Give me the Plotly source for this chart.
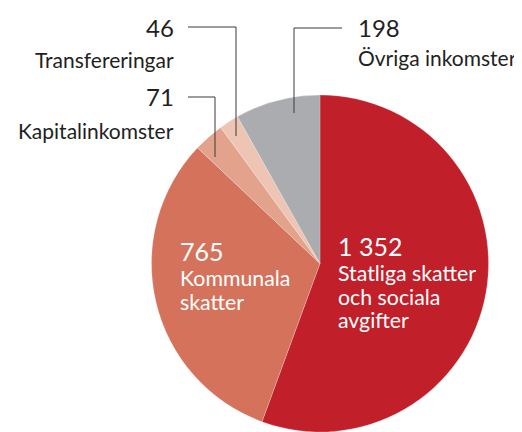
import plotly.graph_objects as go

categories = ["Statliga skatter och sociala avgifter", "Kommunala skatter",
              "Kapitalinkomster", "Transfereringar", "Övriga inkomster"]
values = [1352, 765, 71, 46, 198]
value_labels = ["1 352", "765", "71", "46", "198"]
label_lines = [["Statliga skatter", "och sociala", "avgifter"], ["Kommunala", "skatter"],
               ["Kapitalinkomster"], ["Transfereringar"], ["Övriga inkomster"]]
colors = ["#C1202A", "#D5725B", "#E3A28C", "#EEC4B4", "#ABACAF"]

OFF = 8  # page body margin
W, H = 522 - OFF, 432 - OFF
FONT = "Lato"
DARK = "#231F20"

def px(x):
    return (x - OFF) / W

def py(y):
    return 1 - (y - OFF) / H

fig = go.Figure(go.Pie(
    labels=categories, values=values, sort=False, direction="clockwise", rotation=0,
    marker=dict(colors=colors, line=dict(color="rgba(255,255,255,0.35)", width=0.6)),
    textinfo="none", hoverinfo="label+value", showlegend=False,
    domain=dict(x=[px(320 - 169), px(320 + 169)], y=[0, py(95)]),
))

ann = []

def add(x, y, text, size, color, xanchor="left"):
    ann.append(dict(x=px(x), y=py(y), text=text, xanchor=xanchor, yanchor="middle",
                    xref="paper", yref="paper", showarrow=False,
                    font=dict(family=FONT, size=size, color=color)))

# inside labels
add(336, 246, value_labels[0], 25, "white")
for i, line in enumerate(label_lines[0]):
    add(336, 273 + i * 23.5, line, 21.3, "white")
add(178, 251, value_labels[1], 25, "white")
for i, line in enumerate(label_lines[1]):
    add(178, 278 + i * 23.5, line, 21.3, "white")
# outside labels
add(176, 28, value_labels[3], 24, DARK, "right")
add(176, 60, label_lines[3][0], 21, DARK, "right")
add(176, 97, value_labels[2], 24, DARK, "right")
add(176, 130, label_lines[2][0], 21, DARK, "right")
add(356, 28, value_labels[4], 24, DARK)
add(356, 57, label_lines[4][0], 21, DARK)

leaders = [
    [(188, 97), (215, 97), (215, 157)],
    [(188, 27), (236, 27), (236, 136)],
    [(342, 28), (294, 28), (294, 113)],
]
shapes = []
for pts in leaders:
    path = "M " + " L ".join(f"{px(x)},{py(y)}" for x, y in pts)
    shapes.append(dict(type="path", path=path, xref="paper", yref="paper",
                       line=dict(color="#3a3a3a", width=1)))

fig.update_layout(width=W, height=H, margin=dict(l=0, r=0, t=0, b=0),
                  paper_bgcolor="white", plot_bgcolor="white",
                  annotations=ann, shapes=shapes, font=dict(family=FONT))
fig.write_html("out.html")
